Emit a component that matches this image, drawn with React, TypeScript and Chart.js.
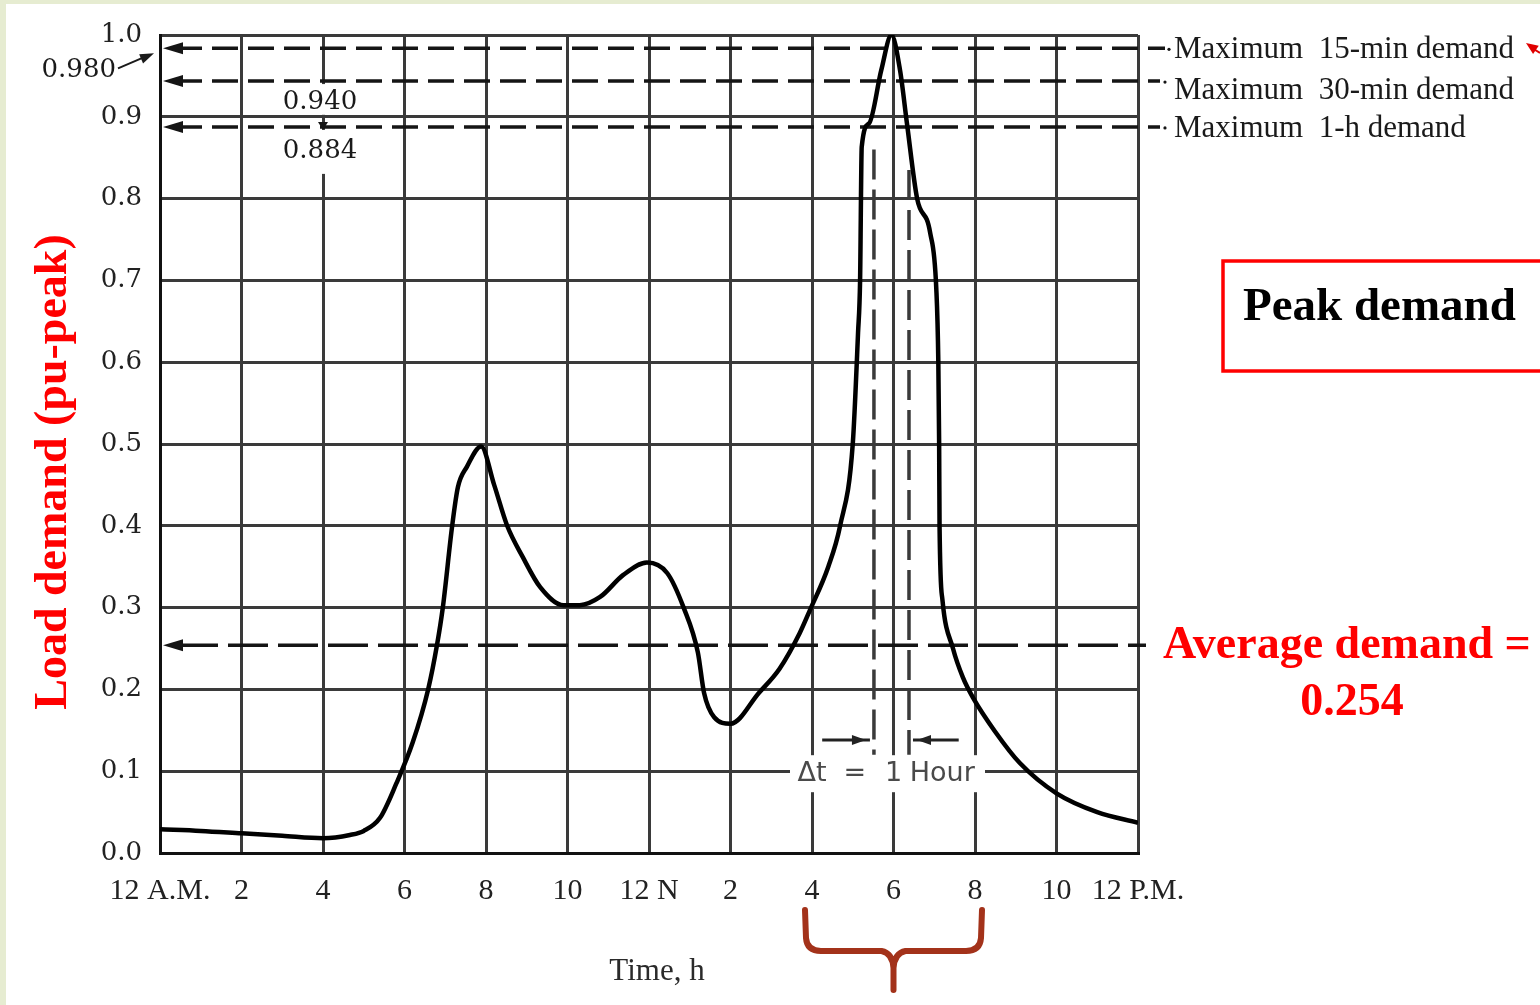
import React, { useEffect, useRef } from "react";
import { Chart, registerables } from "chart.js";

Chart.register(...registerables);

// ---- data ----
const hours = [
  0, 1, 2, 3, 4, 4.66, 5, 5.4, 5.8, 6.2, 6.58, 6.8, 6.94, 7.17, 7.31, 7.53, 7.88,
  8.2, 8.52, 8.9, 9.33, 9.9, 10.3, 10.8, 11.37, 11.95, 12.45, 12.85, 13.2, 13.35, 13.6,
  14.0, 14.7, 15.2, 15.7, 15.95, 16.4, 16.69, 17.0, 17.13, 17.18, 17.22, 17.4, 17.7,
  17.95, 18.16, 18.33, 18.58, 18.9, 19.05, 19.1, 19.12, 19.13, 19.2, 19.46, 19.7, 19.95,
  20.5, 21.1, 22, 23, 24,
];
const load = [
  0.029, 0.027, 0.024, 0.021, 0.018, 0.022, 0.027, 0.043, 0.085, 0.135, 0.2, 0.255, 0.3,
  0.4, 0.447, 0.472, 0.497, 0.45, 0.4, 0.362, 0.325, 0.303, 0.303, 0.313, 0.34, 0.355,
  0.342, 0.3, 0.245, 0.196, 0.166, 0.158, 0.196, 0.225, 0.269, 0.297, 0.35, 0.4, 0.5,
  0.636, 0.7, 0.863, 0.892, 0.957, 1.0, 0.957, 0.892, 0.8, 0.758, 0.69, 0.6, 0.5, 0.4,
  0.31, 0.25, 0.215, 0.19, 0.148, 0.11, 0.073, 0.05, 0.037,
];
const xTickValues = [0, 2, 4, 6, 8, 10, 12, 14, 16, 18, 20, 22, 24];
const xTickLabels = ["12 A.M.", "2", "4", "6", "8", "10", "12 N", "2", "4", "6", "8", "10", "12 P.M."];
const yTickValues = [0, 0.1, 0.2, 0.3, 0.4, 0.5, 0.6, 0.7, 0.8, 0.9, 1.0];
const maxDemandValues = [0.98, 0.94, 0.884];
const maxDemandLabels = ["Maximum  15-min demand", "Maximum  30-min demand", "Maximum  1-h demand"];
const averageDemand = 0.254;
const deltaTWindow = [17.52, 18.38];
const deltaTStartValues = [0.86, 0.835];

const W = 1540;
const H = 1005;

function arrowHead(ctx: CanvasRenderingContext2D, tipX: number, tipY: number, angle: number, len: number, half: number) {
  ctx.save();
  ctx.translate(tipX, tipY);
  ctx.rotate(angle);
  ctx.beginPath();
  ctx.moveTo(0, 0);
  ctx.lineTo(len, -half);
  ctx.lineTo(len, half);
  ctx.closePath();
  ctx.fill();
  ctx.restore();
}

const overlay = {
  id: "overlay",
  beforeDraw(chart: any) {
    const ctx = chart.ctx as CanvasRenderingContext2D;
    ctx.save();
    ctx.fillStyle = "#ffffff";
    ctx.fillRect(0, 0, W, H);
    ctx.fillStyle = "#e6ecd1";
    ctx.fillRect(0, 0, W, 4);
    ctx.fillRect(0, 0, 6, H);
    ctx.restore();
  },
  beforeDatasetsDraw(chart: any) {
    const ctx = chart.ctx as CanvasRenderingContext2D;
    const xs = chart.scales.x;
    const ys = chart.scales.y;
    const area = chart.chartArea;
    ctx.save();

    // maximum demand dashed lines
    ctx.strokeStyle = "#151515";
    ctx.fillStyle = "#151515";
    ctx.lineWidth = 3.5;
    maxDemandValues.forEach((v, i) => {
      const y = ys.getPixelForValue(v) - 3;
      ctx.setLineDash([26, 10]);
      ctx.beginPath();
      ctx.moveTo(area.left + 16, y);
      ctx.lineTo(area.right + (i === 0 ? 27 : 22), y);
      ctx.stroke();
      ctx.setLineDash([]);
      arrowHead(ctx, area.left + 3, y, 0, 20, 6);
      ctx.beginPath();
      ctx.arc(area.right + (i === 0 ? 31 : 27), y + 1, 1.6, 0, Math.PI * 2);
      ctx.fill();
    });

    // average demand line
    const ya = ys.getPixelForValue(averageDemand);
    ctx.setLineDash([40, 10]);
    ctx.beginPath();
    ctx.moveTo(area.left + 18, ya);
    ctx.lineTo(area.right + 8, ya);
    ctx.stroke();
    ctx.setLineDash([]);
    arrowHead(ctx, area.left + 3, ya, 0, 20, 6);

    // labels 0.940 / 0.884 on white
    const x4 = xs.getPixelForValue(4);
    ctx.fillStyle = "#ffffff";
    ctx.fillRect(x4 - 45, ys.getPixelForValue(0.94), 90, ys.getPixelForValue(0.9) - ys.getPixelForValue(0.94) - 2);
    ctx.fillRect(x4 - 45, ys.getPixelForValue(0.884), 90, 44);
    ctx.fillStyle = "#1a1a1a";
    ctx.font = "26px 'DejaVu Serif'";
    ctx.textAlign = "center";
    ctx.textBaseline = "middle";
    ctx.fillText(maxDemandValues[1].toFixed(3), x4 - 3, ys.getPixelForValue(0.94) + 18);
    ctx.fillText(maxDemandValues[2].toFixed(3), x4 - 3, ys.getPixelForValue(0.884) + 21);
    ctx.fillStyle = "#151515";
    arrowHead(ctx, x4, ys.getPixelForValue(0.884), -Math.PI / 2, 8, 5);

    // delta t vertical dashed lines
    ctx.strokeStyle = "#3a3a3a";
    ctx.lineWidth = 3.5;
    ctx.setLineDash([30, 10]);
    deltaTWindow.forEach((h, i) => {
      const x = xs.getPixelForValue(h);
      ctx.beginPath();
      ctx.moveTo(x, ys.getPixelForValue(deltaTStartValues[i]));
      ctx.lineTo(x, ys.getPixelForValue(0.12));
      ctx.stroke();
    });
    ctx.setLineDash([]);

    // white gap for delta t text
    const y01 = ys.getPixelForValue(0.1);
    ctx.fillStyle = "#ffffff";
    ctx.fillRect(xs.getPixelForValue(16) - 22, y01 - 16, xs.getPixelForValue(20) - xs.getPixelForValue(16) + 32, 37);
    ctx.fillStyle = "#4a4a4a";
    ctx.font = "27px 'DejaVu Sans'";
    ctx.textBaseline = "middle";
    ctx.textAlign = "center";
    ctx.fillText("\u0394t", xs.getPixelForValue(16), y01 + 3);
    ctx.fillText("=", xs.getPixelForValue(17.05), y01 + 3);
    ctx.fillText("1", xs.getPixelForValue(18), y01 + 3);
    ctx.textAlign = "left";
    ctx.fillText("Hour", xs.getPixelForValue(18.4), y01 + 3);

    // delta t arrows
    const yArr = ys.getPixelForValue(0.138);
    const xl = xs.getPixelForValue(deltaTWindow[0]);
    const xr = xs.getPixelForValue(deltaTWindow[1]);
    ctx.strokeStyle = "#222";
    ctx.fillStyle = "#222";
    ctx.lineWidth = 3;
    ctx.beginPath();
    ctx.moveTo(xs.getPixelForValue(16.25), yArr);
    ctx.lineTo(xl - 4, yArr);
    ctx.moveTo(xr + 4, yArr);
    ctx.lineTo(xs.getPixelForValue(19.6), yArr);
    ctx.stroke();
    arrowHead(ctx, xl - 8, yArr, Math.PI, 14, 5);
    arrowHead(ctx, xr + 8, yArr, 0, 14, 5);

    ctx.restore();
  },
  afterDatasetsDraw(chart: any) {
    const ctx = chart.ctx as CanvasRenderingContext2D;
    const xs = chart.scales.x;
    const ys = chart.scales.y;
    const area = chart.chartArea;
    ctx.save();

    // right-hand max labels
    ctx.fillStyle = "#1a1a1a";
    ctx.font = "31px 'Liberation Serif'";
    ctx.textAlign = "left";
    ctx.textBaseline = "middle";
    const offs = [-2, 7, -1];
    maxDemandLabels.forEach((t, i) => {
      ctx.fillText(t, area.right + 36, ys.getPixelForValue(maxDemandValues[i]) + offs[i]);
    });

    // 0.980 label with arrow
    ctx.font = "26px 'DejaVu Serif'";
    ctx.textAlign = "right";
    ctx.fillText(maxDemandValues[0].toFixed(3), 116, ys.getPixelForValue(maxDemandValues[0]) + 19);
    ctx.strokeStyle = "#1a1a1a";
    ctx.lineWidth = 2;
    ctx.beginPath();
    ctx.moveTo(118, ys.getPixelForValue(maxDemandValues[0]) + 17);
    ctx.lineTo(146, ys.getPixelForValue(maxDemandValues[0]) + 5);
    ctx.stroke();
    arrowHead(ctx, 154, ys.getPixelForValue(maxDemandValues[0]) + 2, Math.PI - 0.4, 14, 5);

    // y-axis title
    ctx.save();
    ctx.translate(54, 472);
    ctx.rotate(-Math.PI / 2);
    ctx.fillStyle = "#ff0000";
    ctx.font = "bold 46px 'Liberation Serif'";
    ctx.textAlign = "center";
    ctx.textBaseline = "middle";
    ctx.fillText("Load demand (pu-peak)", 0, 0);
    ctx.restore();

    // peak demand box
    ctx.strokeStyle = "#ff0000";
    ctx.lineWidth = 3.5;
    ctx.strokeRect(1223, 261, 400, 110);
    ctx.fillStyle = "#000000";
    ctx.font = "bold 47px 'Liberation Serif'";
    ctx.textAlign = "left";
    ctx.textBaseline = "alphabetic";
    ctx.fillText("Peak demand", 1243, 320);

    // average demand text
    ctx.fillStyle = "#ff0000";
    ctx.font = "bold 46px 'Liberation Serif'";
    ctx.fillText("Average demand =", 1163, 658);
    ctx.textAlign = "center";
    ctx.fillText(averageDemand.toFixed(3), 1352, 715);

    // red arrow top right
    ctx.strokeStyle = "#e00000";
    ctx.fillStyle = "#e00000";
    ctx.lineWidth = 2;
    ctx.beginPath();
    ctx.moveTo(1540, 53);
    ctx.lineTo(1532, 48);
    ctx.stroke();
    arrowHead(ctx, 1526, 43, 0.6, 12, 5);

    // time axis title
    ctx.fillStyle = "#2a2a2a";
    ctx.font = "31px 'Liberation Serif'";
    ctx.textAlign = "center";
    ctx.textBaseline = "middle";
    ctx.fillText("Time, h", 657, 972);

    // curly brace
    const bl = xs.getPixelForValue(16) - 7;
    const br = xs.getPixelForValue(20) + 7;
    const bc = (bl + br) / 2;
    ctx.strokeStyle = "#a3321a";
    ctx.lineWidth = 6;
    ctx.lineCap = "round";
    ctx.lineJoin = "round";
    ctx.beginPath();
    ctx.moveTo(bl, 910);
    ctx.lineTo(bl + 1, 938);
    ctx.quadraticCurveTo(bl + 2, 951, bl + 16, 951);
    ctx.lineTo(bc - 12, 951);
    ctx.quadraticCurveTo(bc - 1, 953, bc, 968);
    ctx.lineTo(bc, 990);
    ctx.moveTo(bc, 968);
    ctx.quadraticCurveTo(bc + 1, 953, bc + 12, 951);
    ctx.lineTo(br - 16, 951);
    ctx.quadraticCurveTo(br - 2, 951, br - 1, 938);
    ctx.lineTo(br, 910);
    ctx.stroke();

    ctx.restore();
  },
};

export default function App() {
  const ref = useRef<HTMLCanvasElement | null>(null);
  useEffect(() => {
    if (!ref.current) return;
    const chart = new Chart(ref.current, {
      type: "line",
      data: {
        datasets: [
          {
            data: hours.map((h, i) => ({ x: h, y: load[i] })),
            borderColor: "#000000",
            borderWidth: 4.5,
            pointRadius: 0,
            fill: false,
            cubicInterpolationMode: "monotone",
          },
        ],
      },
      options: {
        responsive: false,
        animation: false,
        devicePixelRatio: 1,
        layout: { padding: { top: 35, right: 402, left: 0, bottom: 0 } },
        plugins: { legend: { display: false }, tooltip: { enabled: false } },
        scales: {
          x: {
            type: "linear",
            min: 0,
            max: 24,
            afterBuildTicks: (s: any) => {
              s.ticks = xTickValues.map((v) => ({ value: v }));
            },
            afterFit: (s: any) => {
              s.height = 152;
            },
            ticks: {
              autoSkip: false,
              maxRotation: 0,
              padding: 20,
              color: "#222",
              font: { family: "'Liberation Serif'", size: 30 },
              callback: (v: any) => xTickLabels[xTickValues.indexOf(Number(v))],
            },
            grid: { color: "#3a3a3a", lineWidth: 3, drawTicks: false },
            border: { color: "#111", width: 3 },
          },
          y: {
            min: 0,
            max: 1,
            afterBuildTicks: (s: any) => {
              s.ticks = yTickValues.map((v) => ({ value: v }));
            },
            afterFit: (s: any) => {
              s.width = 160;
            },
            ticks: {
              padding: 18,
              color: "#222",
              font: { family: "'DejaVu Serif'", size: 26 },
              callback: (v: any) => Number(v).toFixed(1),
            },
            grid: { color: "#3a3a3a", lineWidth: 3, drawTicks: false },
            border: { color: "#111", width: 3 },
          },
        },
      },
      plugins: [overlay],
    } as any);
    return () => chart.destroy();
  }, []);
  return (
    <div style={{ position: "fixed", left: 0, top: 0, width: W, height: H }}>
      <canvas ref={ref} width={W} height={H} style={{ display: "block" }} />
    </div>
  );
}
